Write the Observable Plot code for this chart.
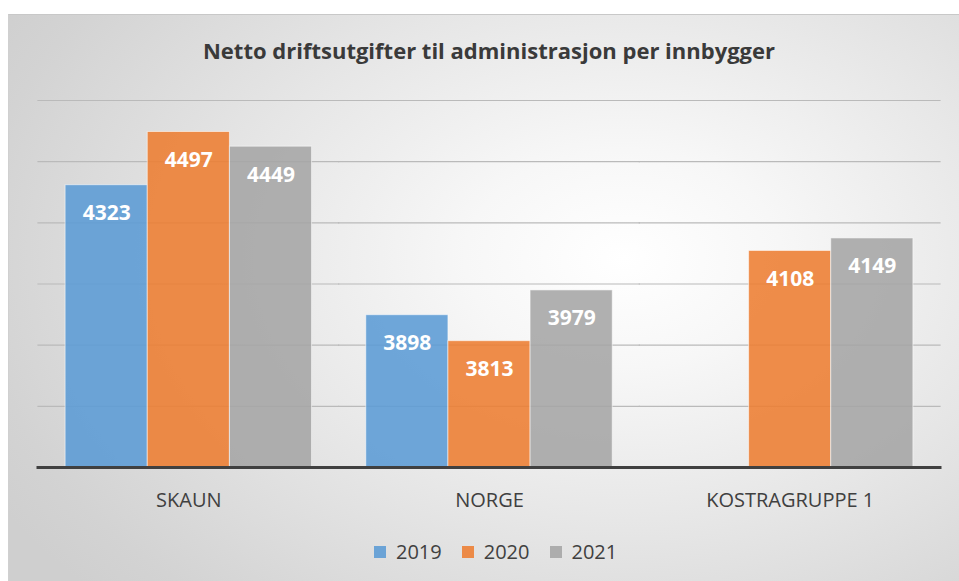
<!DOCTYPE html>
<html>
<head>
<meta charset="utf-8">
<script src="https://cdn.jsdelivr.net/npm/d3@7"></script>
<script src="https://cdn.jsdelivr.net/npm/@observablehq/plot@0.6"></script>
<style>
  html, body { margin: 0; padding: 0; background: #ffffff; }
  #page { position: relative; width: 959px; height: 581px; overflow: hidden; }
  #frame {
    position: absolute; left: 8px; top: 14px; width: 960px; height: 580px;
    background: radial-gradient(ellipse 75% 85% at 64% 42%, #ffffff 0%, #f7f7f7 22%, #e6e6e6 55%, #d3d3d3 90%, #cfcfcf 100%);
    border-top: 1px solid #c8c8c8; border-left: 1px solid #d0d0d0;
  }
  #title {
    position: absolute; left: 0; width: 978px; top: 39px; text-align: center;
    font-family: "Open Sans", sans-serif; font-weight: 700; font-size: 22px; line-height: 22px; color: #3a3a3a;
    white-space: nowrap;
  }
  #chart { position: absolute; left: 0; top: 0; }
  #legend { position: absolute; left: 374px; top: 535px; }
</style>
</head>
<body>
<div id="page">
  <div id="frame"></div>
  <div id="chart"></div>
  <div id="title">Netto driftsutgifter til administrasjon per innbygger</div>
  <div id="legend"></div>
</div>
<script>
const categories = ["SKAUN", "NORGE", "KOSTRAGRUPPE 1"];
const years = ["2019", "2020", "2021"];
const values2019 = [4323, 3898, null];
const values2020 = [4497, 3813, 4108];
const values2021 = [4449, 3979, 4149];
const yTicks = [3400, 3600, 3800, 4000, 4200, 4400, 4600];
const colors = ["#5B9BD5", "#ED7D31", "#A5A5A5"];

const series = [values2019, values2020, values2021];
const rows = [];
categories.forEach((c, i) => {
  years.forEach((y, j) => {
    const v = series[j][i];
    if (v != null) rows.push({category: c, year: y, value: v});
  });
});
const yMin = yTicks[0];
const yMax = yTicks[yTicks.length - 1];

const chart = Plot.plot({
  width: 959,
  height: 581,
  marginLeft: 38,
  marginRight: 19,
  marginTop: 100,
  marginBottom: 114,
  style: {background: "transparent", fontFamily: "Open Sans, sans-serif", fontSize: "20px", color: "#404040", overflow: "visible"},
  fx: {domain: categories, padding: 0, round: false, label: null, tickSize: 0, tickPadding: 25},
  x: {domain: years, paddingInner: 0, paddingOuter: 0.33, round: false, axis: null},
  y: {domain: [yMin, yMax], axis: null},
  color: {domain: years, range: colors},
  marks: [
    Plot.ruleY(yTicks.slice(1), {stroke: "#bababa", strokeWidth: 1.2, strokeLinecap: "square"}),
    Plot.barY(rows, {fx: "category", x: "year", y1: yMin, y2: "value", fill: "year", fillOpacity: 0.88, stroke: "#ffffff", strokeOpacity: 0.55, strokeWidth: 1}),
    Plot.text(rows, {fx: "category", x: "year", y: "value", text: d => String(d.value), fill: "#ffffff", fontWeight: "bold", fontSize: 21, lineAnchor: "bottom", dy: 35}),
    Plot.ruleY([yMin], {stroke: "#404040", strokeWidth: 3, strokeLinecap: "square"})
  ]
});
document.getElementById("chart").appendChild(chart);

const legend = Plot.legend({
  color: {domain: years, range: colors},
  swatchSize: 12,
  style: {fontFamily: "Open Sans, sans-serif", fontSize: "20px", color: "#404040", background: "transparent"}
});
legend.querySelectorAll("svg").forEach(s => s.style.opacity = 0.88);
document.getElementById("legend").appendChild(legend);
</script>
</body>
</html>
